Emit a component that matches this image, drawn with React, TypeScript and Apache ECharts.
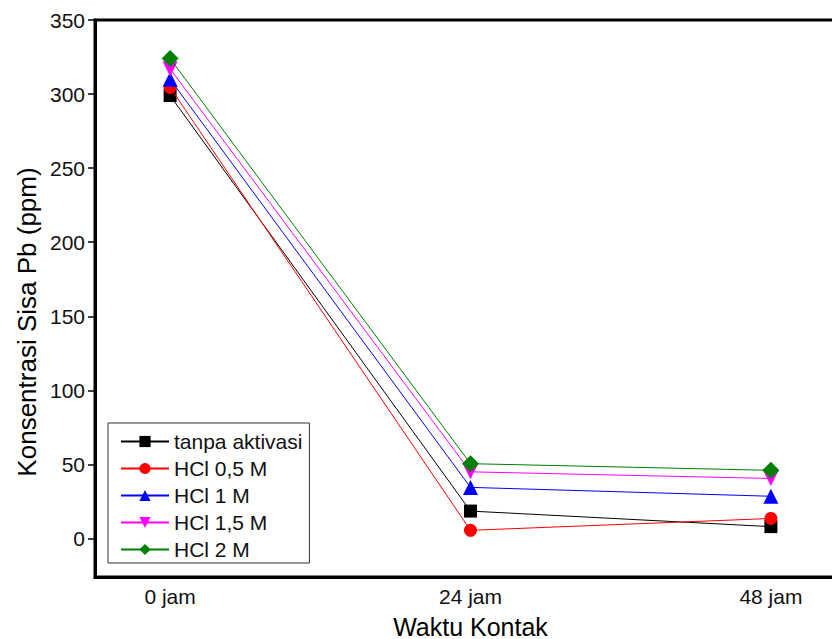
import React, { useEffect, useRef } from "react";
import * as echarts from "echarts";

const hours = [0, 24, 48];
const xTickValues = [0, 24, 48];
const yTickValues = [0, 50, 100, 150, 200, 250, 300, 350];

const seriesNames = ["tanpa aktivasi", "HCl 0,5 M", "HCl 1 M", "HCl 1,5 M", "HCl 2 M"];
const tanpaAktivasi = [299, 18.5, 8];
const hcl05 = [304.5, 5.5, 13.5];
const hcl1 = [310, 34.5, 28.5];
const hcl15 = [317, 45, 40.5];
const hcl2 = [324, 50.5, 46];

const seriesValues = [tanpaAktivasi, hcl05, hcl1, hcl15, hcl2];
const colors = ["#000000", "#ff0000", "#0000ff", "#ff00ff", "#008000"];
const symbols = ["rect", "circle", "triangle", "triangle", "diamond"];
const symbolSizes = [13, 13, 15, 15, 17];
const symbolRotates = [0, 0, 0, 180, 0];

const FONT = "'Liberation Sans', Arial, sans-serif";

export default function App() {
  const ref = useRef<HTMLDivElement>(null);
  useEffect(() => {
    if (!ref.current) return;
    const chart = echarts.init(ref.current, null, { renderer: "svg" });
    const series = seriesNames.map((name, i) => ({
      name,
      type: "line",
      data: hours.map((h, j) => [h, seriesValues[i][j]]),
      symbol: symbols[i],
      symbolSize: symbolSizes[i],
      symbolRotate: symbolRotates[i],
      lineStyle: { color: colors[i], width: 1 },
      itemStyle: { color: colors[i] },
      z: 2 + i,
    }));
    chart.setOption({
      animation: false,
      backgroundColor: "#ffffff",
      textStyle: { fontFamily: FONT },
      grid: {
        left: 95,
        top: 20,
        width: 751,
        height: 557,
        outerBoundsMode: "none",
        containLabel: false,
        show: true,
        borderColor: "#000",
        borderWidth: 3,
        backgroundColor: "transparent",
      },
      xAxis: {
        type: "value",
        min: -6,
        max: 54,
        name: "Waktu Kontak",
        nameLocation: "middle",
        nameGap: 37,
        nameTextStyle: { fontSize: 25, color: "#000", fontFamily: FONT },
        axisLine: { show: true, onZero: false, lineStyle: { color: "#000", width: 3 } },
        axisTick: { show: false },
        splitLine: { show: false },
        axisLabel: {
          customValues: xTickValues,
          formatter: (v: number) => `${v} jam`,
          fontSize: 21,
          color: "#111",
          margin: 9,
          fontFamily: FONT,
        },
      },
      yAxis: {
        type: "value",
        min: -26,
        max: 350,
        axisLine: { show: true, onZero: false, lineStyle: { color: "#000", width: 3 } },
        axisTick: {
          show: true,
          customValues: yTickValues,
          length: 7,
          lineStyle: { color: "#000", width: 1.5 },
        },
        splitLine: { show: false },
        axisLabel: {
          customValues: yTickValues,
          fontSize: 21,
          color: "#111",
          margin: 10,
          fontFamily: FONT,
        },
      },
      legend: {
        orient: "vertical",
        left: 108,
        top: 423,
        data: seriesNames,
        borderColor: "#333",
        borderWidth: 1,
        padding: [8, 7, 3, 12],
        itemWidth: 48,
        itemHeight: 14,
        itemGap: 6,
        textStyle: { fontSize: 21, color: "#111", lineHeight: 20, fontFamily: FONT },
      },
      graphic: [
        {
          type: "text",
          x: 27,
          y: 322,
          rotation: Math.PI / 2,
          style: {
            text: "Konsentrasi Sisa Pb (ppm)",
            fontSize: 26,
            fontFamily: FONT,
            fill: "#000",
            textAlign: "center",
            textVerticalAlign: "middle",
          },
        },
      ],
      series,
    });
    return () => chart.dispose();
  }, []);
  return (
    <div
      style={{
        position: "fixed",
        left: 0,
        top: 0,
        width: 832,
        height: 639,
        overflow: "hidden",
      }}
    >
      <div ref={ref} style={{ width: 870, height: 639 }} />
    </div>
  );
}
